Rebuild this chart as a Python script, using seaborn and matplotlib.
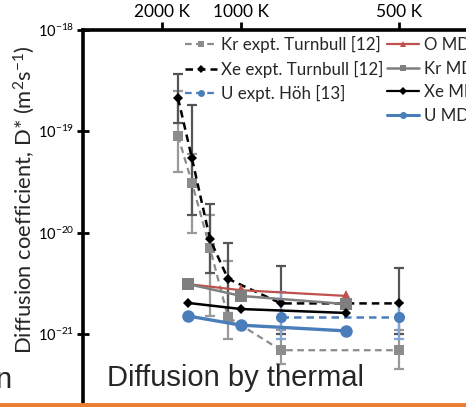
import numpy as np
import pandas as pd
import matplotlib
matplotlib.use("Agg")
import matplotlib.pyplot as plt
from matplotlib.lines import Line2D
import seaborn as sns

# ---------------- data ----------------
# experimental temperatures (K)
T_expt = [1663, 1450, 1244, 1090, 798, 500]
kr_expt = [9.0e-20, 3.1e-20, 7.0e-21, 1.47e-21, 6.9e-22, 6.9e-22]
kr_expt_lo = [4.0e-20, 1.0e-20, 1.5e-21, 9.0e-22, 5.0e-22, 4.5e-22]
kr_expt_hi = [2.5e-19, 6.0e-20, 1.5e-20, 5.2e-21, 1.1e-21, 1.1e-21]
xe_expt = [2.13e-19, 5.4e-20, 8.6e-21, 3.5e-21, 2.0e-21, 2.0e-21]
xe_expt_lo = [1.2e-19, 1.5e-20, 4.0e-21, 1.6e-21, 1.0e-21, 1.0e-21]
xe_expt_hi = [3.7e-19, 1.8e-19, 1.9e-20, 7.9e-21, 4.7e-21, 4.5e-21]
T_u_expt = [798, 500]
u_expt = [1.47e-21, 1.47e-21]
u_expt_lo = [9.0e-22, 9.0e-22]
u_expt_hi = [2.6e-21, 2.0e-21]

# MD temperatures (K)
T_md = [1500, 1000, 600]
o_md = [3.1e-21, 2.7e-21, 2.37e-21]
kr_md = [3.1e-21, 2.37e-21, 1.97e-21]
xe_md = [2.02e-21, 1.76e-21, 1.61e-21]
u_md = [1.50e-21, 1.22e-21, 1.07e-21]

top_ticks_T = [2000, 1000, 500]
top_tick_labels = ["2000 K", "1000 K", "500 K"]
y_ticks = [1e-18, 1e-19, 1e-20, 1e-21]

# ---------------- style ----------------
sns.set_theme(style="white")
plt.rcParams["font.family"] = ["Lato", "DejaVu Sans"]
plt.rcParams["mathtext.fontset"] = "custom"
plt.rcParams["mathtext.rm"] = "Lato"
plt.rcParams["mathtext.it"] = "Lato:italic"
plt.rcParams["mathtext.bf"] = "Lato:bold"

RED = "#C0504D"
GRAY = "#7F7F7F"
LGRAY = "#8C8C8C"
BLUE = "#4A7EBB"

W, H = 466, 407
fig = plt.figure(figsize=(W / 100, H / 100), dpi=100)
left_px, top_px = 83, 30
ax = fig.add_axes([left_px / W, 0, 1 - left_px / W, 1 - top_px / H])

def inv(T):
    return 1000.0 / np.asarray(T, dtype=float)

# error bars first
def ebar(T, y, lo, hi, color, lw=1.6):
    y = np.asarray(y); lo = np.asarray(lo); hi = np.asarray(hi)
    ax.errorbar(inv(T), y, yerr=[y - lo, hi - y], fmt="none", ecolor=color,
                elinewidth=lw, capsize=3.5, capthick=lw, zorder=1)

ebar(T_expt, kr_expt, kr_expt_lo, kr_expt_hi, "#999999")
ebar(T_expt, xe_expt, xe_expt_lo, xe_expt_hi, "#555555")
ebar(T_u_expt, u_expt, u_expt_lo, u_expt_hi, "#7FA6D6")

def series(T, y, color, marker, ms, ls, lw, z):
    df = pd.DataFrame({"x": inv(T), "y": y})
    sns.lineplot(data=df, x="x", y="y", ax=ax, color=color, marker=marker,
                 markersize=ms, linestyle=ls, linewidth=lw, markeredgewidth=0,
                 sort=False, zorder=z, legend=False)

series(T_expt, kr_expt, LGRAY, "s", 7, (0, (3, 2)), 1.6, 3)
series(T_expt, xe_expt, "black", "D", 5, (0, (3, 2)), 1.8, 3)
series(T_u_expt, u_expt, BLUE, "o", 8, (0, (3, 2)), 1.8, 3)
series(T_md, o_md, RED, "^", 8, "-", 1.6, 4)
series(T_md, kr_md, GRAY, "s", 8, "-", 1.8, 4)
series(T_md, xe_md, "black", "D", 5, "-", 1.8, 4)
series(T_md, u_md, BLUE, "o", 9, "-", 2.4, 4)

ax.set_yscale("log")
ax.set_xlim(0, (W - left_px) / 158.0)
ax.set_ylim(10 ** (-18 - (H - top_px) / 101.3), 1e-18)
ax.set_yticks(y_ticks)
ax.yaxis.set_major_formatter(matplotlib.ticker.LogFormatterMathtext())
ax.yaxis.set_minor_locator(matplotlib.ticker.NullLocator())
ax.xaxis.tick_top()
ax.set_xticks(inv(top_ticks_T))
ax.set_xticklabels(top_tick_labels)
ax.tick_params(axis="x", top=True, bottom=False, direction="out", length=6,
               width=2, labelsize=12.5, pad=1, colors="black")
ax.tick_params(axis="y", left=True, direction="inout", length=8, width=2,
               labelsize=10.5, pad=2, colors="black")
for s in ["right", "bottom"]:
    ax.spines[s].set_visible(False)
for s in ["left", "top"]:
    ax.spines[s].set_color("black")
    ax.spines[s].set_linewidth(2.6)
ax.set_xlabel("")
ax.set_ylabel("Diffusion coefficient, D* (m$^2$s$^{-1}$)", fontsize=15.8)
ax.yaxis.set_label_coords((37 - left_px) / (W - left_px), (H - 200) / (H - top_px))

# legend
h = [
    Line2D([], [], color=LGRAY, ls=(0, (3, 2)), marker="s", ms=5, mew=0, lw=1.6),
    Line2D([], [], color="black", ls=(0, (3, 2)), marker="D", ms=4, mew=0, lw=1.8),
    Line2D([], [], color=BLUE, ls=(0, (3, 2)), marker="o", ms=5, mew=0, lw=1.6),
    Line2D([], [], color="none"),
    Line2D([], [], color=RED, marker="^", ms=5, mew=0, lw=1.6),
    Line2D([], [], color=GRAY, marker="s", ms=5, mew=0, lw=1.8),
    Line2D([], [], color="black", marker="D", ms=4, mew=0, lw=1.6),
    Line2D([], [], color=BLUE, marker="o", ms=5, mew=0, lw=2.2),
]
labels = ["Kr expt. Turnbull [12]", "Xe expt. Turnbull [12]", "U expt. Höh [13]", "",
          "O MD", "Kr MD", "Xe MD", "U MD"]
ax.legend(h, labels, ncol=2, loc="upper left", frameon=False,
          bbox_to_anchor=((185 - left_px) / (W - left_px), (H - 36) / (H - top_px)),
          borderpad=0, borderaxespad=0, handlelength=1.9, handletextpad=0.25,
          columnspacing=0.2, labelspacing=0.45, fontsize=12.2)

# slide elements
fig.text(107 / W, 1 - 378 / H, "Diffusion by thermal", fontsize=21,
         family=["Liberation Sans"], va="center", ha="left")
fig.text(-5 / W, 1 - 380 / H, "n", fontsize=21, family=["Liberation Sans"],
         va="center", ha="left")
fig.add_artist(Line2D([0, 1], [2.5 / H, 2.5 / H], color="#ED7D31", lw=3.5,
                      transform=fig.transFigure))

fig.savefig("out.png", dpi=100)
